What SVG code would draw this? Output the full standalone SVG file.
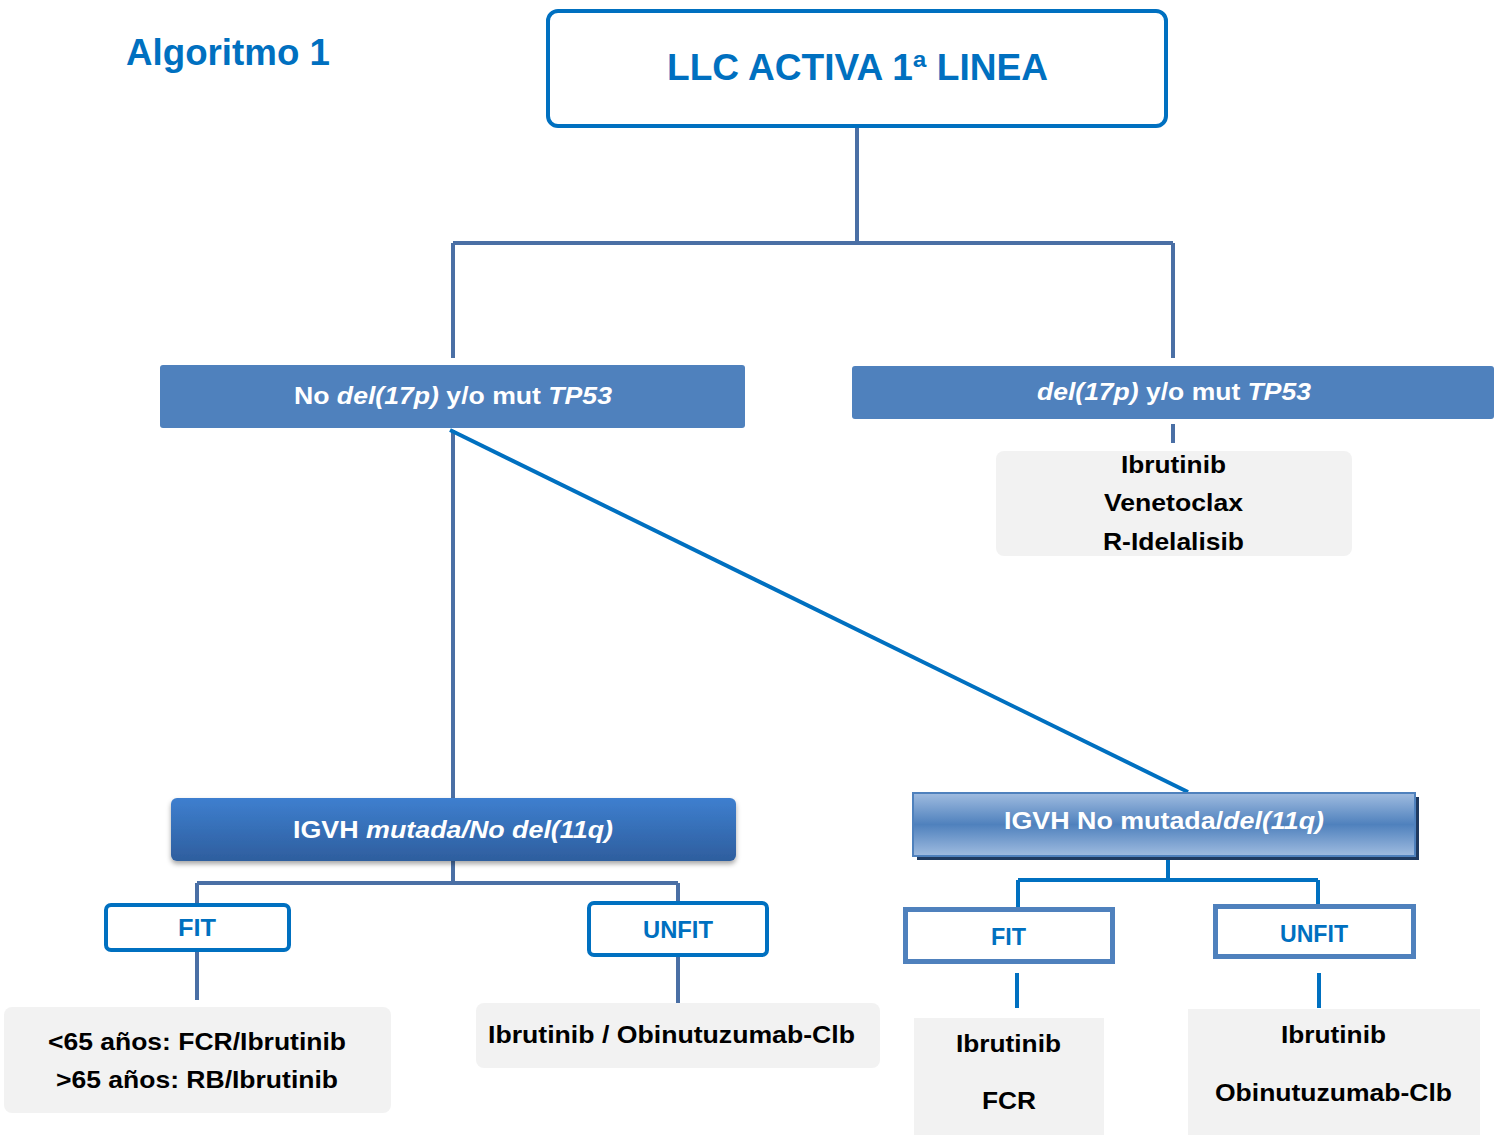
<svg xmlns="http://www.w3.org/2000/svg" width="1495" height="1135" viewBox="0 0 1495 1135">
<defs>
<style>
text{font-family:"Liberation Sans",Arial,sans-serif;font-weight:bold;text-anchor:middle}
.w{fill:#fff;font-size:24px}
.b{fill:#0070C0}
.k{fill:#000;font-size:24px}
.c1{fill:none;stroke:#4A6FA5;stroke-width:4}
.c2{fill:none;stroke:#0070C0;stroke-width:4}
.gray{fill:#F2F2F2}
.ob{fill:#fff;stroke:#0070C0;stroke-width:4}
.ob2{fill:#fff;stroke:#4F81BD;stroke-width:5}
</style>
<linearGradient id="g1" x1="0" y1="0" x2="0" y2="1">
<stop offset="0" stop-color="#3E7FCF"/>
<stop offset="1" stop-color="#2E5E9E"/>
</linearGradient>
<linearGradient id="g2" x1="0" y1="0" x2="0" y2="1">
<stop offset="0" stop-color="#A0BCE0"/>
<stop offset="0.5" stop-color="#4F81BD"/>
<stop offset="1" stop-color="#A0BCE0"/>
</linearGradient>
<filter id="sh" x="-5%" y="-20%" width="110%" height="150%">
<feDropShadow dx="0" dy="3" stdDeviation="2.5" flood-color="#000" flood-opacity="0.35"/>
</filter>
</defs>
<rect width="1495" height="1135" fill="#fff"/>
<text x="228" y="65" class="b" style="font-size:36px" textLength="204" lengthAdjust="spacingAndGlyphs">Algoritmo 1</text>

<g id="connectors">
<path class="c1" d="M857 126V243M453 243H1173M453 243V358M1173 243V358"/>
<path class="c1" d="M1173 424V443"/>
<path class="c1" d="M453 430V798"/>
<path class="c2" d="M450 430L1188 792"/>
<path class="c1" d="M453 861V883M197 883H678M197 883V905M678 883V903"/>
<path class="c1" d="M197 950V1000M678 955V1003"/>
<path class="c2" d="M1168 856V880M1018 880H1318M1018 880V908M1318 880V904"/>
<path class="c2" d="M1017 973V1008M1319 973V1008"/>
</g>

<g id="n-top">
<rect x="548" y="11" width="618" height="115" rx="10" class="ob"/>
<text x="857.5" y="80" class="b" style="font-size:36px" textLength="381" lengthAdjust="spacingAndGlyphs">LLC ACTIVA 1ª LINEA</text>
</g>

<g id="n-nodel">
<rect x="160" y="365" width="585" height="63" rx="3" fill="#4F81BD"/>
<text x="453" y="404" class="w" textLength="318" lengthAdjust="spacingAndGlyphs">No <tspan font-style="italic">del(17p)</tspan> y/o mut <tspan font-style="italic">TP53</tspan></text>
</g>

<g id="n-del">
<rect x="852" y="366" width="642" height="53" rx="3" fill="#4F81BD"/>
<text x="1174" y="400" class="w" textLength="274" lengthAdjust="spacingAndGlyphs"><tspan font-style="italic">del(17p)</tspan> y/o mut <tspan font-style="italic">TP53</tspan></text>
</g>

<g id="n-del-tx">
<rect x="996" y="451" width="356" height="105" rx="8" class="gray"/>
<text x="1173.5" y="473" class="k" textLength="105" lengthAdjust="spacingAndGlyphs">Ibrutinib</text>
<text x="1173.5" y="511" class="k" textLength="139" lengthAdjust="spacingAndGlyphs">Venetoclax</text>
<text x="1173.5" y="550" class="k" textLength="141" lengthAdjust="spacingAndGlyphs">R-Idelalisib</text>
</g>

<g id="n-igvh-mut">
<rect x="171" y="798" width="565" height="63" rx="6" fill="url(#g1)" filter="url(#sh)"/>
<text x="453" y="838" class="w" textLength="320" lengthAdjust="spacingAndGlyphs">IGVH <tspan font-style="italic">mutada/No del(11q)</tspan></text>
</g>

<g id="n-igvh-nomut">
<rect x="917" y="797" width="502" height="63" fill="#1F3A60"/>
<rect x="913" y="793" width="502" height="63" fill="url(#g2)" stroke="#4F81BD" stroke-width="2"/>
<text x="1164" y="829" class="w" textLength="320" lengthAdjust="spacingAndGlyphs">IGVH No mutada/<tspan font-style="italic">del(11q)</tspan></text>
</g>

<g id="n-fit1">
<rect x="106" y="905" width="183" height="45" rx="5" class="ob"/>
<text x="197" y="936" class="b" style="font-size:24px" textLength="38" lengthAdjust="spacingAndGlyphs">FIT</text>
</g>

<g id="n-unfit1">
<rect x="589" y="903" width="178" height="52" rx="5" class="ob"/>
<text x="678" y="938" class="b" style="font-size:24px" textLength="70" lengthAdjust="spacingAndGlyphs">UNFIT</text>
</g>

<g id="n-fit1-tx">
<rect x="4" y="1007" width="387" height="106" rx="8" class="gray"/>
<text x="197" y="1050" class="k" textLength="298" lengthAdjust="spacingAndGlyphs">&lt;65 años: FCR/Ibrutinib</text>
<text x="197" y="1088" class="k" textLength="282" lengthAdjust="spacingAndGlyphs">&gt;65 años: RB/Ibrutinib</text>
</g>

<g id="n-unfit1-tx">
<rect x="476" y="1003" width="404" height="65" rx="8" class="gray"/>
<text x="671.5" y="1043" class="k" textLength="367" lengthAdjust="spacingAndGlyphs">Ibrutinib / Obinutuzumab-Clb</text>
</g>

<g id="n-fit2">
<rect x="905.5" y="909.5" width="207" height="52" class="ob2"/>
<text x="1008.5" y="945" class="b" style="font-size:24px" textLength="35" lengthAdjust="spacingAndGlyphs">FIT</text>
</g>

<g id="n-unfit2">
<rect x="1215.5" y="906.5" width="198" height="50" class="ob2"/>
<text x="1314" y="942" class="b" style="font-size:24px" textLength="68" lengthAdjust="spacingAndGlyphs">UNFIT</text>
</g>

<g id="n-fit2-tx">
<rect x="914" y="1018" width="190" height="117" class="gray"/>
<text x="1008.5" y="1052" class="k" textLength="105" lengthAdjust="spacingAndGlyphs">Ibrutinib</text>
<text x="1009" y="1109" class="k" textLength="54" lengthAdjust="spacingAndGlyphs">FCR</text>
</g>

<g id="n-unfit2-tx">
<rect x="1188" y="1009" width="292" height="126" class="gray"/>
<text x="1333.5" y="1043" class="k" textLength="105" lengthAdjust="spacingAndGlyphs">Ibrutinib</text>
<text x="1333.5" y="1101" class="k" textLength="237" lengthAdjust="spacingAndGlyphs">Obinutuzumab-Clb</text>
</g>
</svg>
